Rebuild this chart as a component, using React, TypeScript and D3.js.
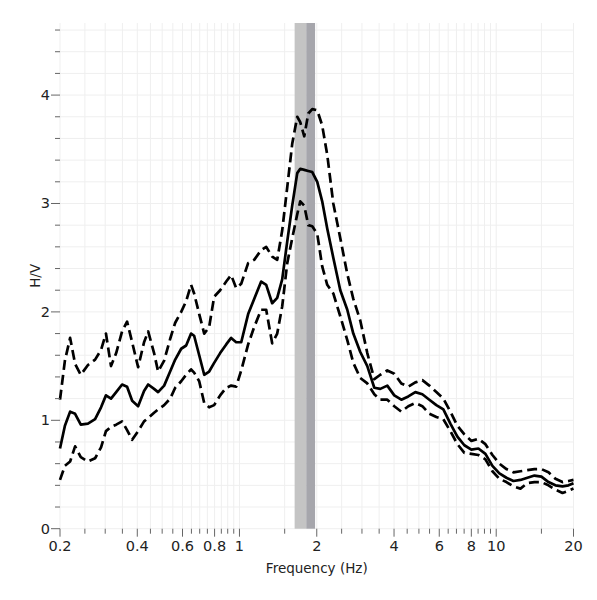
import React from 'react';
import * as d3 from 'd3';

// frequencies (Hz) shared by the three curves
const freqs = [
  0.2, 0.209, 0.219, 0.229, 0.241, 0.257, 0.274, 0.289, 0.302, 0.316, 0.331, 0.349, 0.365, 0.382,
  0.403, 0.425, 0.441, 0.465, 0.482, 0.509, 0.537, 0.562, 0.593, 0.62, 0.648, 0.666, 0.697, 0.729,
  0.762, 0.797, 0.841, 0.888, 0.928, 0.971, 1.016, 1.081, 1.141, 1.215, 1.271, 1.341, 1.403, 1.467,
  1.535, 1.605, 1.679, 1.725, 1.788, 1.854, 1.921, 2.009, 2.1, 2.197, 2.32, 2.47, 2.63, 2.776, 2.955,
  3.147, 3.351, 3.536, 3.765, 4.009, 4.27, 4.546, 4.841, 5.155, 5.49, 5.846, 6.225, 6.629, 7.059,
  7.516, 8.005, 8.524, 9.078, 9.666, 10.29, 10.96, 11.67, 12.43, 13.23, 14.09, 15.0, 15.98, 17.01,
  18.12, 19.12, 20.0,
];

const meanHV = [
  0.74, 0.95, 1.08, 1.06, 0.96, 0.97, 1.01, 1.12, 1.23, 1.2, 1.26, 1.33, 1.31, 1.18,
  1.13, 1.27, 1.33, 1.29, 1.26, 1.32, 1.45, 1.56, 1.66, 1.69, 1.8, 1.78, 1.6, 1.42,
  1.45, 1.53, 1.62, 1.7, 1.76, 1.72, 1.72, 1.98, 2.12, 2.28, 2.25, 2.08, 2.13, 2.3,
  2.65, 2.98, 3.28, 3.32, 3.31, 3.3, 3.29, 3.2, 3.02, 2.77, 2.5, 2.2, 2.02, 1.8, 1.63,
  1.5, 1.3, 1.29, 1.32, 1.23, 1.19, 1.22, 1.26, 1.24, 1.19, 1.14, 1.1, 0.97, 0.85,
  0.77, 0.73, 0.74, 0.69, 0.58, 0.51, 0.47, 0.44, 0.45, 0.47, 0.49, 0.48, 0.43, 0.4,
  0.39, 0.4, 0.42,
];

const upperHV = [
  1.19, 1.55, 1.76, 1.52, 1.42, 1.51, 1.56, 1.65, 1.8, 1.5, 1.62, 1.82, 1.91, 1.72,
  1.49, 1.72, 1.82, 1.62, 1.45, 1.55, 1.75, 1.9, 2.0, 2.1, 2.25, 2.17, 1.98, 1.8,
  1.86, 2.14, 2.2, 2.28, 2.34, 2.22, 2.26, 2.45, 2.48, 2.57, 2.6, 2.51, 2.48, 2.75,
  3.15, 3.55, 3.8, 3.75, 3.62, 3.83, 3.87, 3.86, 3.72, 3.45, 3.0, 2.68, 2.35, 2.12, 1.92,
  1.62, 1.38, 1.42, 1.46, 1.43, 1.34, 1.31, 1.35, 1.37, 1.32, 1.26, 1.2, 1.08, 0.95,
  0.87, 0.81, 0.83, 0.78, 0.68, 0.6, 0.55, 0.52, 0.53, 0.54, 0.55, 0.55, 0.52, 0.46,
  0.43, 0.44, 0.45,
];

const lowerHV = [
  0.45, 0.58, 0.62, 0.76, 0.66, 0.62, 0.65, 0.75, 0.9, 0.94, 0.96, 0.99, 0.91, 0.82,
  0.9, 0.99, 1.02, 1.07, 1.1, 1.14, 1.2, 1.3, 1.36, 1.42, 1.47, 1.44, 1.36, 1.16,
  1.12, 1.14, 1.23, 1.3, 1.32, 1.31, 1.46, 1.7, 1.86, 2.02, 2.02, 1.71, 1.8, 2.05,
  2.45, 2.68, 2.9, 3.02, 2.98, 2.8, 2.79, 2.72, 2.42, 2.25, 2.17, 1.96, 1.74, 1.53, 1.39,
  1.34, 1.24, 1.19, 1.19, 1.13, 1.08, 1.13, 1.16, 1.13, 1.06, 1.03, 1.01, 0.9, 0.78,
  0.7, 0.69, 0.68, 0.64, 0.53, 0.46, 0.43, 0.39, 0.37, 0.42, 0.43, 0.43, 0.4, 0.36,
  0.33, 0.35, 0.37,
];

// peak frequency band: f0 - std .. f0 .. f0 + std
const peakBand = [1.64, 1.82, 1.97];

const xMajorTicks = [0.2, 0.4, 0.6, 0.8, 1, 2, 4, 6, 8, 10, 20];
const xMinorTicks = [
  0.25, 0.3, 0.35, 0.45, 0.5, 0.55, 0.65, 0.7, 0.75, 0.85, 0.9, 0.95, 1.5, 2.5, 3, 3.5, 4.5, 5,
  5.5, 6.5, 7, 7.5, 8.5, 9, 9.5, 15,
];
const yMajorTicks = [0, 1, 2, 3, 4];
const yMinorTicks = [0.2, 0.4, 0.6, 0.8, 1.2, 1.4, 1.6, 1.8, 2.2, 2.4, 2.6, 2.8, 3.2, 3.4, 3.6, 3.8, 4.2, 4.4, 4.6];

const W = 597;
const H = 600;
const margin = { left: 60, right: 23.5, top: 23, bottom: 71.3 };
const font = "'DejaVu Sans', Verdana, sans-serif";

export default function App() {
  const x = d3.scaleLog().domain([0.2, 20]).range([margin.left, W - margin.right]);
  const y = d3.scaleLinear().domain([0, 4.665]).range([H - margin.bottom, margin.top]);
  const [y0, y1] = y.range();
  const [x0, x1] = x.range();

  const line = (vals: number[]) =>
    d3
      .line<number>()
      .x((_, i) => x(freqs[i]))
      .y((d) => y(d))(vals) || '';

  return (
    <svg
      width={W}
      height={H}
      style={{ position: 'absolute', left: 0, top: 0, background: '#fff' }}
      fontFamily={font}
    >
      <rect x={0} y={0} width={W} height={H} fill="#fff" />
      {/* grid */}
      <g stroke="#efefef" strokeWidth={1}>
        {[...xMajorTicks, ...xMinorTicks].map((t) => (
          <line key={'gx' + t} x1={x(t)} x2={x(t)} y1={y0} y2={y1} />
        ))}
        {[...yMajorTicks, ...yMinorTicks].map((t) => (
          <line key={'gy' + t} x1={x0} x2={x1} y1={y(t)} y2={y(t)} />
        ))}
      </g>
      {/* peak band */}
      <rect
        x={x(peakBand[0])}
        y={y1}
        width={x(peakBand[1]) - x(peakBand[0])}
        height={y0 - y1}
        fill="#c4c4c4"
      />
      <rect
        x={x(peakBand[1])}
        y={y1}
        width={x(peakBand[2]) - x(peakBand[1])}
        height={y0 - y1}
        fill="#a6a6ac"
      />
      {/* curves */}
      <g fill="none" stroke="#000" strokeWidth={2.7} strokeLinejoin="round">
        <path d={line(upperHV)} strokeDasharray="10,5" />
        <path d={line(lowerHV)} strokeDasharray="10,5" />
        <path d={line(meanHV)} />
      </g>
      {/* ticks */}
      <g stroke="#666" strokeWidth={1}>
        {xMajorTicks.map((t) => (
          <line key={'xt' + t} x1={x(t)} x2={x(t)} y1={y0} y2={y0 + 8} />
        ))}
        {xMinorTicks.map((t) => (
          <line key={'xm' + t} x1={x(t)} x2={x(t)} y1={y0} y2={y0 + 5} />
        ))}
        {yMajorTicks.map((t) => (
          <line key={'yt' + t} x1={x0 - 9} x2={x0} y1={y(t)} y2={y(t)} />
        ))}
        {yMinorTicks.map((t) => (
          <line key={'ym' + t} x1={x0 - 5} x2={x0} y1={y(t)} y2={y(t)} />
        ))}
      </g>
      <g fontSize={14.5} fill="#222">
        {xMajorTicks.map((t) => (
          <text key={'xl' + t} x={x(t)} y={y0 + 22} textAnchor="middle">
            {String(t)}
          </text>
        ))}
        {yMajorTicks.map((t) => (
          <text key={'yl' + t} x={x0 - 10} y={y(t) + 5} textAnchor="end">
            {t}
          </text>
        ))}
      </g>
      <text x={(x0 + x1) / 2} y={573} textAnchor="middle" fontSize={13.5} fill="#222">
        Frequency (Hz)
      </text>
      <text
        transform={`translate(40,${(y0 + y1) / 2}) rotate(-90)`}
        textAnchor="middle"
        fontSize={13.5}
        fill="#222"
      >
        H/V
      </text>
    </svg>
  );
}
